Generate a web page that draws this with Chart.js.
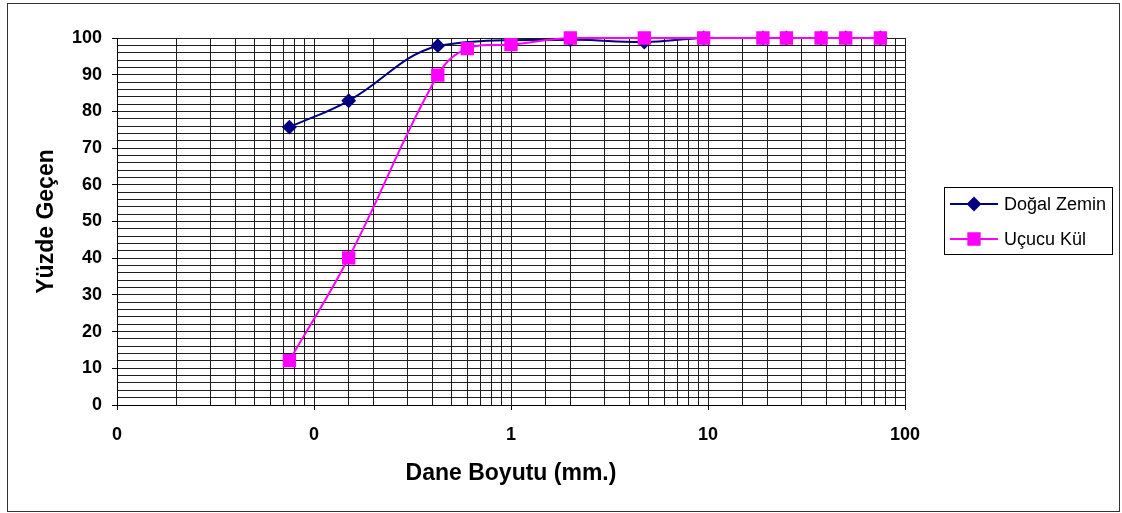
<!DOCTYPE html>
<html>
<head>
<meta charset="utf-8">
<script src="https://cdn.jsdelivr.net/npm/chart.js@4/dist/chart.umd.min.js"></script>
<style>
  html, body { margin: 0; padding: 0; background: #fff; }
  #wrap { position: relative; width: 1122px; height: 513px; }
</style>
</head>
<body>
<div id="wrap"><canvas id="gradationChart" width="1122" height="513"></canvas></div>
<script>
// sieve sizes (mm) and percent passing
var zeminSizes = [0.075, 0.15, 0.425, 2, 4.75, 9.5, 19, 25, 37.5, 50, 75];
var zeminPassing = [75.7, 82.9, 97.9, 99.5, 98.9, 100, 100, 100, 100, 100, 100];
var kulSizes = [0.075, 0.15, 0.425, 0.6, 1, 2, 4.75, 9.5, 19, 25, 37.5, 50, 75];
var kulPassing = [12.1, 40.1, 89.9, 97.1, 98.2, 100, 100, 100, 100, 100, 100, 100, 100];
var seriesNames = ['Doğal Zemin', 'Uçucu Kül'];
var yTicks = [0, 10, 20, 30, 40, 50, 60, 70, 80, 90, 100];

function toPoints(xs, ys) {
    return xs.map(function(x, i) { return { x: x, y: ys[i] }; });
}

var FONT = 'Liberation Sans, Arial, sans-serif';
var gridColor = '#1e1e1e';

// frame round the whole chart and the boxed legend on the right
var framePlugin = {
    id: 'frame',
    afterDraw: function(chart) {
        var c = chart.ctx;
        c.save();
        c.strokeStyle = '#333';
        c.lineWidth = 1;
        c.strokeRect(7.5, 3.5, 1112, 508);

        c.strokeStyle = '#000';
        c.strokeRect(944.5, 187.5, 168, 67);
        var rows = [204, 239];
        chart.data.datasets.forEach(function(ds, i) {
            var y = rows[i];
            c.strokeStyle = ds.borderColor;
            c.lineWidth = 2;
            c.beginPath();
            c.moveTo(950, y);
            c.lineTo(998, y);
            c.stroke();
            Chart.helpers.drawPoint(c, {
                pointStyle: ds.pointStyle,
                radius: ds.pointRadius,
                borderWidth: 1
            }, 974, y);
            c.fillStyle = ds.pointBackgroundColor;
            c.fill();
            c.fillStyle = '#000';
            c.font = '18px ' + FONT;
            c.textBaseline = 'middle';
            c.fillText(ds.label, 1004, y + 1);
        });
        c.restore();
    }
};

var ctx = document.getElementById('gradationChart').getContext('2d');
var gradationChart = new Chart(ctx, {
    type: 'line',
    data: {
        datasets: [{
            label: seriesNames[0],
            data: toPoints(zeminSizes, zeminPassing),
            borderColor: '#000080',
            backgroundColor: '#000080',
            pointBackgroundColor: '#000080',
            pointBorderColor: '#000080',
            pointStyle: 'rectRot',
            pointRadius: 6,
            borderWidth: 2,
            tension: 0.4,
            clip: false,
            order: 1
        }, {
            label: seriesNames[1],
            data: toPoints(kulSizes, kulPassing),
            borderColor: '#FF00FF',
            backgroundColor: '#FF00FF',
            pointBackgroundColor: '#FF00FF',
            pointBorderColor: '#FF00FF',
            pointStyle: 'rect',
            pointRadius: 8,
            borderWidth: 2,
            tension: 0.4,
            clip: false,
            order: 0
        }]
    },
    options: {
        responsive: false,
        animation: false,
        layout: { padding: { left: 0, top: 38, right: 217, bottom: 0 } },
        plugins: {
            legend: { display: false },
            tooltip: { enabled: false }
        },
        scales: {
            x: {
                type: 'logarithmic',
                min: 0.01,
                max: 100,
                afterFit: function(scale) { scale.height = 108; },
                border: { color: '#000', width: 1 },
                grid: {
                    color: gridColor,
                    tickLength: 5,
                    tickColor: function(c) {
                        var e = Math.log10(c.tick.value);
                        return Math.abs(e - Math.round(e)) < 1e-9 ? '#000' : 'rgba(0,0,0,0)';
                    }
                },
                ticks: {
                    autoSkip: false,
                    maxRotation: 0,
                    padding: 14,
                    color: '#000',
                    font: { family: FONT, size: 18, weight: 'bold' },
                    callback: function(value) {
                        var e = Math.log10(value);
                        if (Math.abs(e - Math.round(e)) > 1e-9) return '';
                        return String(Math.round(value));
                    }
                },
                title: {
                    display: true,
                    text: 'Dane Boyutu (mm.)',
                    color: '#000',
                    font: { family: FONT, size: 23, weight: 'bold' },
                    padding: { top: 0, bottom: 26 }
                }
            },
            y: {
                min: 0,
                max: 100,
                afterFit: function(scale) { scale.width = 117; },
                afterBuildTicks: function(scale) {
                    var list = [];
                    for (var i = 0; i < yTicks.length; i++) {
                        list.push({ value: yTicks[i] });
                        if (i < yTicks.length - 1) {
                            for (var m = 2; m < 10; m += 2) list.push({ value: yTicks[i] + m });
                        }
                    }
                    scale.ticks = list;
                },
                border: { color: '#000', width: 1 },
                grid: {
                    color: gridColor,
                    tickLength: 5,
                    tickColor: function(c) {
                        return yTicks.indexOf(c.tick.value) >= 0 ? '#000' : 'rgba(0,0,0,0)';
                    }
                },
                ticks: {
                    autoSkip: false,
                    padding: 10,
                    color: '#000',
                    font: { family: FONT, size: 18, weight: 'bold' },
                    callback: function(value) {
                        return yTicks.indexOf(value) >= 0 ? String(value) : '';
                    }
                },
                title: {
                    display: true,
                    text: 'Yüzde Geçen',
                    color: '#000',
                    font: { family: FONT, size: 23, weight: 'bold' },
                    padding: { top: 33, bottom: 0 }
                }
            }
        }
    },
    plugins: [framePlugin]
});
</script>
</body>
</html>
